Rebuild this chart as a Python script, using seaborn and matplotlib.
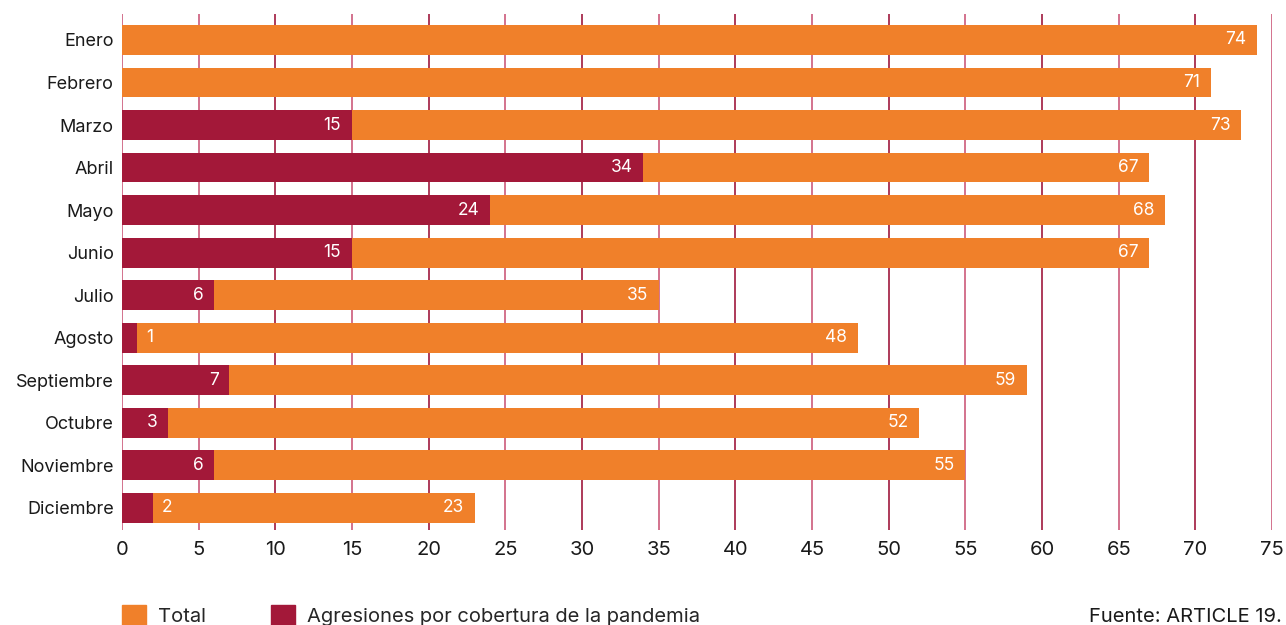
import pandas as pd
import matplotlib.pyplot as plt
import seaborn as sns
from matplotlib.patches import Patch

# Data
meses = ['Enero', 'Febrero', 'Marzo', 'Abril', 'Mayo', 'Junio', 'Julio',
         'Agosto', 'Septiembre', 'Octubre', 'Noviembre', 'Diciembre']
total = [74, 71, 73, 67, 68, 67, 35, 48, 59, 52, 55, 23]
pandemia = [0, 0, 15, 34, 24, 15, 6, 1, 7, 3, 6, 2]
ticks = list(range(0, 80, 5))

orange = '#f0802a'
crimson = '#a31839'

df = pd.DataFrame({'mes': meses, 'total': total, 'pandemia': pandemia})

sns.set_theme(style='white')
plt.rcParams['font.family'] = ['Inter', 'DejaVu Sans']

fig = plt.figure(figsize=(12.86, 6.25), dpi=100)
ax = fig.add_axes([122/1286, 1 - 530/625, 1150/1286, 516/625])

# vertical grid lines
for t in ticks:
    c = '#a0193d' if t % 10 == 0 and t > 0 else '#cc5a7a'
    ax.axvline(t, color=c, lw=1.2, zorder=0)

sns.barplot(data=df, y='mes', x='total', orient='h', color=orange,
            width=0.7, saturation=1, linewidth=0, ax=ax, zorder=2)
sns.barplot(data=df, y='mes', x='pandemia', orient='h', color=crimson,
            width=0.7, saturation=1, linewidth=0, ax=ax, zorder=3)

# value labels
for i in range(len(meses)):
    ax.text(total[i] - 0.7, i, str(total[i]), ha='right', va='center',
            color='white', fontsize=12.5, zorder=5)
    p = pandemia[i]
    if p == 0:
        continue
    if p >= 3:
        ax.text(p - 0.7, i, str(p), ha='right', va='center',
                color='white', fontsize=12.5, zorder=5)
    else:
        ax.text(p + 0.6, i, str(p), ha='left', va='center',
                color='white', fontsize=12.5, zorder=5)

ax.set_xlim(0, 75)
ax.set_ylim(11.52, -0.61)
ax.set_xticks(ticks)
ax.set_xlabel('')
ax.set_ylabel('')
ax.tick_params(axis='x', labelsize=14.5, length=0, pad=8, colors='#1a1a1a')
ax.tick_params(axis='y', labelsize=13, length=0, pad=6, colors='#1a1a1a')
sns.despine(ax=ax, left=True, bottom=True)

# legend
handles = [Patch(color=orange, label='Total'),
           Patch(color=crimson, label='Agresiones por cobertura de la pandemia')]
fig.legend(handles=handles, loc='lower left', bbox_to_anchor=(104/1286, -0.03),
           ncol=2, frameon=False, fontsize=14.5, handlelength=1.2,
           handleheight=1.2, columnspacing=3.2, handletextpad=0.6)

fig.text(1282/1286, -1/625, 'Fuente: ARTICLE 19.', ha='right', va='bottom',
         fontsize=14.5, color='#1a1a1a')

fig.savefig('out.png', dpi=100)
